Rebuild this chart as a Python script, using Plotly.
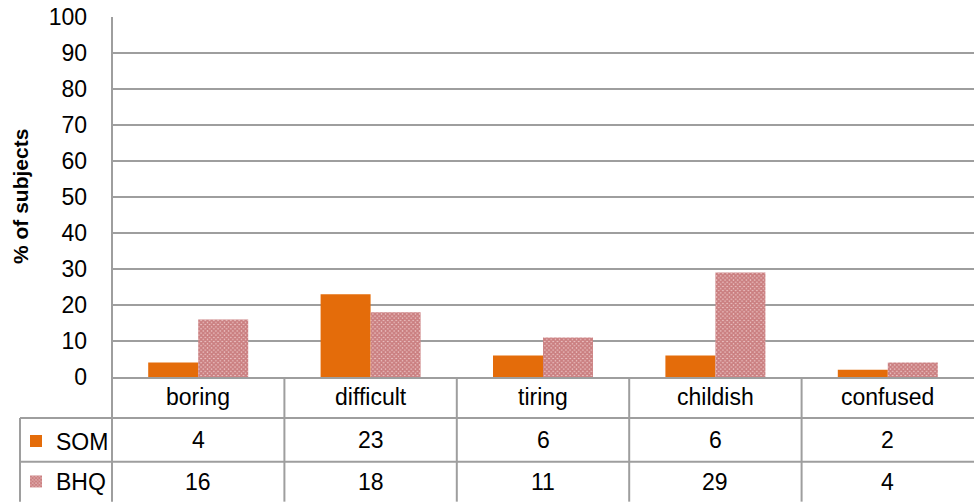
import plotly.graph_objects as go

# Survey answers: share of subjects describing each version with the adjective
categories = ["boring", "difficult", "tiring", "childish", "confused"]
som_values = [4, 23, 6, 6, 2]
bhq_values = [16, 18, 11, 29, 4]
series_names = ["SOM", "BHQ"]
y_ticks = list(range(0, 101, 10))

W, H = 974, 503
L, R, T, B = 112, 0, 17, 125
PW, PH = W - L - R, H - T - B

FONT = "Liberation Sans"
FS = 23
GRID = "#9E9E9E"
ORANGE = "#E46C0A"
RED = "#A83538"
PINK = "#EDC8C8"


def px_x(px):
    return (px - L) / PW


def px_y(py):
    return (H - B - py) / PH


fig = go.Figure()
fig.add_trace(go.Bar(
    x=categories, y=som_values, name=series_names[0],
    marker=dict(color=ORANGE, line=dict(width=0)),
    legend="legend",
))
fig.add_trace(go.Bar(
    x=categories, y=bhq_values, name=series_names[1],
    marker=dict(color=PINK, line=dict(width=0),
                pattern=dict(shape="x", fgcolor=RED, bgcolor=PINK,
                             size=3, solidity=0.8)),
    legend="legend2",
))

# data-table grid beneath the plot
row_tops = [378, 419, 463]
bottom = 503
shapes = []
line = dict(color=GRID, width=2)
# left axis line extended through the table
shapes.append(dict(type="line", xref="paper", yref="paper",
                   x0=0, x1=0, y0=1, y1=px_y(bottom), line=line))
# column separators
for i in range(1, len(categories)):
    shapes.append(dict(type="line", xref="x", yref="paper",
                       x0=i - 0.5, x1=i - 0.5, y0=0, y1=px_y(bottom), line=line))
# row separators for the series rows
for py in row_tops[1:]:
    shapes.append(dict(type="line", xref="paper", yref="paper",
                       x0=px_x(20), x1=1, y0=px_y(py), y1=px_y(py), line=line))
# left border of the legend column
shapes.append(dict(type="line", xref="paper", yref="paper",
                   x0=px_x(20), x1=px_x(20), y0=px_y(row_tops[1]),
                   y1=px_y(bottom), line=line))

annotations = []
row_centers = [398, 441, 483]
for i, c in enumerate(categories):
    annotations.append(dict(x=c, xref="x", y=px_y(row_centers[0]), yref="paper",
                            text=c, showarrow=False, xanchor="center", yanchor="middle"))
    annotations.append(dict(x=c, xref="x", y=px_y(row_centers[1]), yref="paper",
                            text=str(som_values[i]), showarrow=False,
                            xanchor="center", yanchor="middle"))
    annotations.append(dict(x=c, xref="x", y=px_y(row_centers[2]), yref="paper",
                            text=str(bhq_values[i]), showarrow=False,
                            xanchor="center", yanchor="middle"))

# rotated axis title
annotations.append(dict(x=px_x(20), xref="paper", y=0.5, yref="paper",
                        text="<b>% of subjects</b>", textangle=-90, showarrow=False,
                        font=dict(family=FONT, size=21, color="black"),
                        xanchor="center", yanchor="middle"))

legend_common = dict(
    xref="paper", yref="paper", x=px_x(16), xanchor="left", yanchor="middle",
    bgcolor="rgba(0,0,0,0)", borderwidth=0, font=dict(family=FONT, size=FS, color="black"),
    itemclick=False, itemdoubleclick=False,
)

fig.update_layout(
    width=W, height=H,
    margin=dict(l=L, r=R, t=T, b=B, pad=0),
    paper_bgcolor="white", plot_bgcolor="white",
    font=dict(family=FONT, size=FS, color="black"),
    barmode="group", bargap=0.42, bargroupgap=0,
    showlegend=True,
    legend=dict(y=px_y(row_centers[1]), **legend_common),
    legend2=dict(y=px_y(row_centers[2]), **legend_common),
    xaxis=dict(type="category", range=[-0.5, len(categories) - 0.5],
               showticklabels=False, ticks="", showgrid=False, zeroline=False,
               showline=True, linecolor=GRID, linewidth=2),
    yaxis=dict(range=[0, 100], tickvals=y_ticks, ticks="", showline=False,
               showgrid=True, gridcolor=GRID, gridwidth=2, zeroline=False,
               ticklabelstandoff=24, tickfont=dict(family=FONT, size=FS)),
    shapes=shapes,
    annotations=annotations,
)

fig.write_html("out.html")
